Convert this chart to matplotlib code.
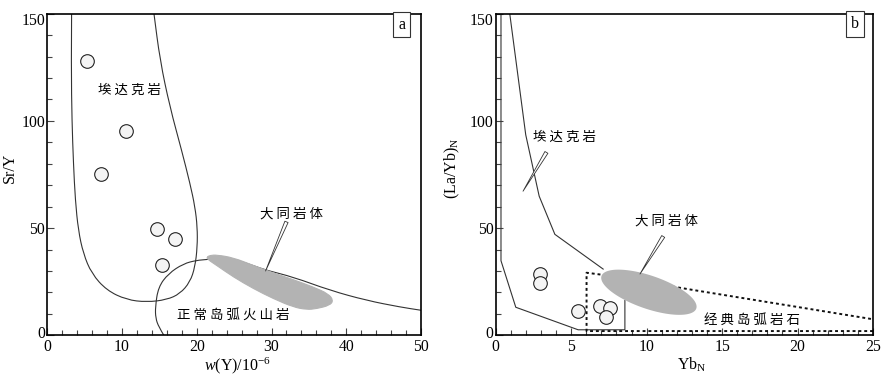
import numpy as np
import matplotlib
matplotlib.use("Agg")
import matplotlib.pyplot as plt
from matplotlib.ticker import MultipleLocator
from matplotlib.patches import PathPatch
from matplotlib.path import Path
from matplotlib.transforms import ScaledTranslation

plt.rcParams['font.family'] = ['Liberation Serif', 'Noto Sans CJK SC']
plt.rcParams['mathtext.fontset'] = 'custom'
plt.rcParams['mathtext.rm'] = 'Liberation Serif'
plt.rcParams['mathtext.it'] = 'Liberation Serif:italic'

LINE = '#333333'
GRAY = '#b3b3b3'
CJK = ['Noto Sans CJK SC', 'Liberation Serif']
CJK_SIZE = 9.7

# ---- panel a data: Sr/Y vs Y ----
a_samples_x = [5.27, 10.49, 7.14, 14.63, 17.09, 15.39]
a_samples_y = [127.9, 95.3, 75.4, 49.8, 44.8, 33.0]

adakite_a_x = [3.25, 3.2, 3.3, 3.5, 3.75, 4.15, 4.82, 5.93, 7.94, 10.6, 13.3,
               15.97, 17.75, 19.1, 19.76, 20.07, 20.07, 19.76, 19.1, 17.97,
               16.4, 15.08, 14.27]
adakite_a_y = [150, 125, 100, 80, 63, 49, 38.1, 28.8, 21, 16.6, 15.5,
               16.6, 19.4, 24.9, 31.9, 41.2, 50.5, 59.9, 70.7, 86.3,
               106.5, 128.3, 150]

arc_a_x = [15.6, 14.9, 14.5, 14.45, 14.85, 16.2, 18.2, 20.0, 21.3, 23.0,
           25.0, 27.5, 29.35, 32.9, 37.8, 42.7, 47.2, 50]
arc_a_y = [0, 4, 8, 13.2, 22.5, 28.8, 33.4, 35, 35.3, 36.2,
           35.5, 32.6, 30.3, 27.2, 21, 16.3, 13.2, 11.7]

datong_a_x = [21.32, 21.8, 22.66, 24.9, 27.56, 30.24, 32.9, 35.6, 37.6, 38.27,
              37.8, 36.0, 34.7, 32.9, 30.24, 27.56, 24.9, 22.66, 21.5]
datong_a_y = [36.5, 37.3, 37.5, 36.2, 32.6, 29.1, 26.0, 22.5, 19.4, 16.3,
              14.0, 12.4, 12.0, 13.2, 17.1, 21.8, 27.2, 32.6, 35.3]

# ---- panel b data: (La/Yb)N vs YbN ----
b_samples_x = [2.96, 2.96, 5.46, 6.9, 7.6, 7.3]
b_samples_y = [28.6, 24.3, 11.3, 13.6, 12.8, 8.5]

adakite_b_upper_x = [0.93, 1.99, 2.88, 3.92, 7.12]
adakite_b_upper_y = [150, 93.5, 64.9, 47.1, 30.9]
adakite_b_lower_x = [0.35, 0.35, 1.33, 5.46, 8.56, 8.56]
adakite_b_lower_y = [150, 34.8, 13.1, 2.6, 2.6, 16.2]

arc_b_x = [25, 6.02, 6.02, 7.0, 13.3, 25]
arc_b_y = [2.0, 2.0, 29.2, 28.3, 20.9, 7.5]

# Datong ellipse in panel b: centre, end of long axis, end of short axis
datong_b_c = (10.15, 20.1)
datong_b_long = (13.29, 12.5)
datong_b_short = (10.51, 27.4)

y_ticks = [0, 50, 100, 150]


def smooth_path(xs, ys, closed=False):
    # quadratic bezier through the midpoints, the given points act as controls
    p = np.column_stack([xs, ys]).astype(float)
    if closed:
        start = (p[-1] + p[0]) / 2
        verts = [start]
        codes = [Path.MOVETO]
        for i in range(len(p)):
            nxt = p[(i + 1) % len(p)]
            verts += [p[i], (p[i] + nxt) / 2]
            codes += [Path.CURVE3, Path.CURVE3]
        verts.append(start)
        codes.append(Path.CLOSEPOLY)
    else:
        verts = [p[0]]
        codes = [Path.MOVETO]
        for i in range(1, len(p) - 1):
            verts += [p[i], (p[i] + p[i + 1]) / 2]
            codes += [Path.CURVE3, Path.CURVE3]
        verts.append(p[-1])
        codes.append(Path.LINETO)
    return Path(verts, codes)


fig = plt.figure(figsize=(8.89, 3.80), dpi=100)
ax1 = fig.add_axes([0.0532, 0.1175, 0.4204, 0.8466])
ax2 = fig.add_axes([0.5576, 0.1175, 0.4244, 0.8466])


def style_axes(ax, xmaj, xmin, xmax):
    ax.set_xlim(0, xmax)
    ax.set_ylim(0, 150)
    ax.xaxis.set_major_locator(MultipleLocator(xmaj))
    ax.xaxis.set_minor_locator(MultipleLocator(xmin))
    ax.set_yticks(y_ticks)
    ax.yaxis.set_minor_locator(MultipleLocator(10))
    ax.tick_params(which='both', direction='in', top=False, right=False,
                   width=0.8, color='#444444', labelsize=11.3)
    ax.tick_params(which='major', length=5)
    ax.tick_params(which='minor', length=3.5)
    ax.tick_params(axis='x', pad=2.5)
    ax.tick_params(axis='y', pad=1.5)
    for s in ax.spines.values():
        s.set_linewidth(1.2)
    # keep the end labels inside the axis height, as in the original figure
    ticks = ax.yaxis.get_major_ticks()
    for tick, dy in ((ticks[0], 3), (ticks[-1], -5)):
        lab = tick.label1
        lab.set_transform(lab.get_transform() +
                          ScaledTranslation(0, dy / 100, fig.dpi_scale_trans))


def wedge(ax, start, tip):
    ax.annotate('', xy=tip, xytext=start,
                arrowprops=dict(arrowstyle='wedge,tail_width=0.25', fc='white',
                                ec='#333333', lw=0.6, shrinkA=0, shrinkB=0,
                                mutation_scale=10), zorder=5)


def box_label(ax, x, y, s):
    ax.text(x, y, s, transform=ax.transAxes, ha='center', va='center', fontsize=11.5,
            bbox=dict(boxstyle='square,pad=0.3', fc='white', ec='#333333', lw=0.8))


# panel a
style_axes(ax1, 10, 2, 50)
ax1.add_patch(PathPatch(smooth_path(adakite_a_x, adakite_a_y), fc='none',
                        ec=LINE, lw=0.8, zorder=2))
ax1.add_patch(PathPatch(smooth_path(arc_a_x, arc_a_y), fc='none',
                        ec=LINE, lw=0.8, zorder=2))
ax1.add_patch(PathPatch(smooth_path(datong_a_x, datong_a_y, closed=True),
                        fc=GRAY, ec=GRAY, lw=0.8, zorder=3))
ax1.plot(a_samples_x, a_samples_y, 'o', ms=9.8, mfc='#f4f4f4', mec='#222222',
         mew=0.8, zorder=4)
ax1.text(10.97, 114.3, '埃 达 克 岩', family=CJK, fontsize=CJK_SIZE, ha='center', va='center')
ax1.text(32.7, 56.7, '大 同 岩 体', family=CJK, fontsize=CJK_SIZE, ha='center', va='center')
ax1.text(24.9, 9.8, '正 常 岛 弧 火 山 岩', family=CJK, fontsize=CJK_SIZE, ha='center', va='center')
wedge(ax1, (32.0, 52.9), (29.2, 30.0))
box_label(ax1, 0.948, 0.966, 'a')
ax1.set_xlabel(r'$w$(Y)/10$^{-6}$', fontsize=11.5)
ax1.set_ylabel('Sr/Y', fontsize=11.5)
ax1.xaxis.set_label_coords(0.51, -0.062)
ax1.yaxis.set_label_coords(-0.08, 0.52)

# panel b
style_axes(ax2, 5, 1, 25)
ax2.plot(adakite_b_upper_x, adakite_b_upper_y, color=LINE, lw=0.8, zorder=2)
ax2.plot(adakite_b_lower_x, adakite_b_lower_y, color=LINE, lw=0.8, zorder=2)
ax2.plot(arc_b_x, arc_b_y, color='#111111', lw=1.4, ls=(0, (1.5, 1.5)), zorder=2)
t = np.linspace(0, 2 * np.pi, 200)
cx, cy = datong_b_c
ex = cx + (datong_b_long[0] - cx) * np.cos(t) + (datong_b_short[0] - cx) * np.sin(t)
ey = cy + (datong_b_long[1] - cy) * np.cos(t) + (datong_b_short[1] - cy) * np.sin(t)
ax2.fill(ex, ey, color=GRAY, lw=0, zorder=3)
ax2.plot(b_samples_x, b_samples_y, 'o', ms=9.8, mfc='#f4f4f4', mec='#222222',
         mew=0.8, zorder=4)
ax2.text(4.58, 92.7, '埃 达 克 岩', family=CJK, fontsize=CJK_SIZE, ha='center', va='center')
ax2.text(11.33, 53.3, '大 同 岩 体', family=CJK, fontsize=CJK_SIZE, ha='center', va='center')
ax2.text(16.97, 7.0, '经 典 岛 弧 岩 石', family=CJK, fontsize=CJK_SIZE, ha='center', va='center')
wedge(ax2, (3.36, 85.3), (1.81, 67.2))
wedge(ax2, (11.1, 46.1), (9.56, 28.6))
box_label(ax2, 0.952, 0.967, 'b')
ax2.set_xlabel(r'Yb$_\mathrm{N}$', fontsize=11.5)
ax2.set_ylabel(r'(La/Yb)$_\mathrm{N}$', fontsize=11.5)
ax2.xaxis.set_label_coords(0.52, -0.062)
ax2.yaxis.set_label_coords(-0.09, 0.52)

fig.savefig('out.png', dpi=100)
